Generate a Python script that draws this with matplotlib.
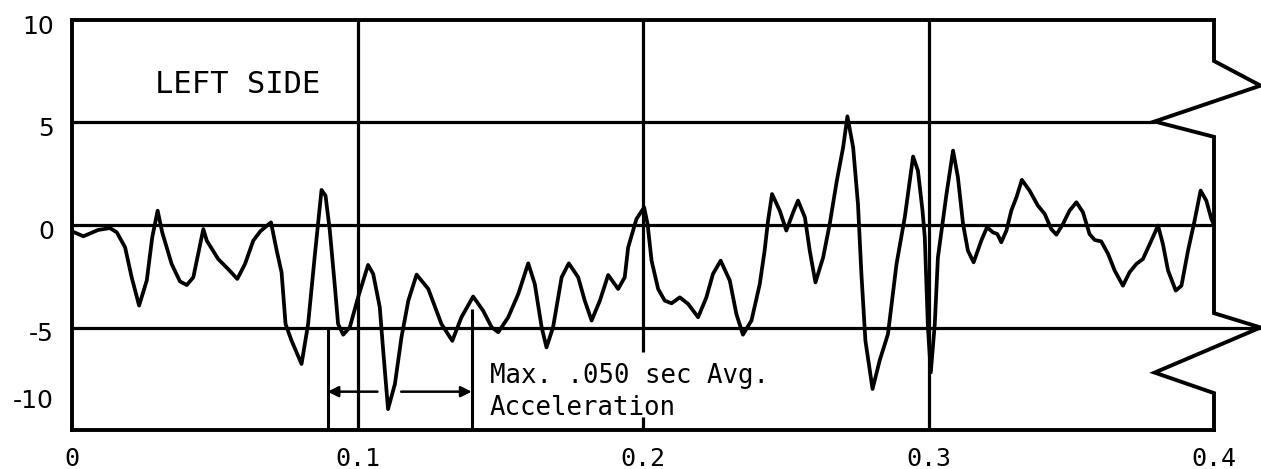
import matplotlib
matplotlib.use("Agg")
import matplotlib.pyplot as plt
from matplotlib.transforms import ScaledTranslation

# Curva trazada a mano sobre la imagen (tiempo en s, aceleración)
t = [0.0, 0.0040, 0.0092, 0.0133, 0.0157, 0.0186, 0.0209, 0.0235, 0.0262, 0.0281,
     0.0300, 0.0316, 0.0349, 0.0378, 0.0402, 0.0425, 0.0442, 0.0460, 0.0472, 0.0512,
     0.0547, 0.0579, 0.0606, 0.0635, 0.0660, 0.0697, 0.0717, 0.0734, 0.0748, 0.0769,
     0.0804, 0.0827, 0.0851, 0.0874, 0.0888, 0.0903, 0.0921, 0.0932, 0.0950, 0.0973,
     0.1002, 0.1037, 0.1055, 0.1078, 0.1090, 0.1107, 0.1131, 0.1154, 0.1178, 0.1207,
     0.1248, 0.1294, 0.1332, 0.1364, 0.1405, 0.1440, 0.1470, 0.1493, 0.1528, 0.1563,
     0.1598, 0.1621, 0.1645, 0.1662, 0.1685, 0.1715, 0.1740, 0.1773, 0.1796, 0.1820,
     0.1849, 0.1878, 0.1913, 0.1936, 0.1948, 0.1977, 0.2004, 0.2016, 0.2030, 0.2053,
     0.2076, 0.2100, 0.2129, 0.2158, 0.2193, 0.2222, 0.2245, 0.2272, 0.2304, 0.2327,
     0.2350, 0.2380, 0.2409, 0.2426, 0.2438, 0.2452, 0.2479, 0.2502, 0.2526, 0.2543,
     0.2567, 0.2584, 0.2604, 0.2631, 0.2654, 0.2679, 0.2701, 0.2716, 0.2736, 0.2753,
     0.2765, 0.2779, 0.2804, 0.2829, 0.2858, 0.2888, 0.2917, 0.2946, 0.2963, 0.2979,
     0.2987, 0.2998, 0.3008, 0.3022, 0.3033, 0.3063, 0.3086, 0.3103, 0.3121, 0.3138,
     0.3158, 0.3185, 0.3205, 0.3226, 0.3241, 0.3255, 0.3273, 0.3290, 0.3308, 0.3327,
     0.3354, 0.3383, 0.3407, 0.3430, 0.3448, 0.3471, 0.3494, 0.3518, 0.3541, 0.3564,
     0.3582, 0.3605, 0.3629, 0.3652, 0.3681, 0.3704, 0.3728, 0.3751, 0.3775, 0.3804,
     0.3821, 0.3839, 0.3866, 0.3886, 0.3909, 0.3932, 0.3953, 0.3973, 0.3991, 0.4000]
acel = [-0.31, -0.55, -0.24, -0.15, -0.36, -1.09, -2.55, -3.93, -2.70, -0.60,
        0.70, -0.36, -1.90, -2.75, -2.93, -2.55, -1.41, -0.20, -0.76, -1.66,
        -2.15, -2.63, -1.90, -0.76, -0.30, 0.13, -1.25, -2.31, -4.83, -5.64,
        -6.78, -4.83, -1.41, 1.71, 1.43, -0.27, -3.04, -4.83, -5.35, -4.99,
        -3.53, -1.95, -2.39, -4.01, -6.13, -8.98, -7.76, -5.48, -3.69, -2.42,
        -3.12, -4.83, -5.65, -4.50, -3.49, -4.18, -4.99, -5.23, -4.50, -3.37,
        -1.87, -2.88, -4.99, -5.97, -4.99, -2.55, -1.87, -2.55, -3.69, -4.66,
        -3.69, -2.44, -3.12, -2.55, -1.09, 0.29, 0.86, 0.05, -1.74, -3.12,
        -3.69, -3.82, -3.53, -3.85, -4.50, -3.53, -2.39, -1.74, -2.71, -4.34,
        -5.35, -4.66, -2.88, -1.25, 0.21, 1.51, 0.70, -0.27, 0.62, 1.19,
        0.38, -1.25, -2.80, -1.58, 0.05, 2.17, 3.79, 5.30, 3.79, 1.02,
        -2.39, -5.64, -8.00, -6.61, -5.32, -1.90, 0.38, 3.34, 2.65, 0.70,
        -0.60, -4.99, -7.19, -4.83, -1.58, 1.51, 3.63, 2.33, 0.05, -1.25,
        -1.82, -0.76, -0.11, -0.36, -0.44, -0.84, -0.27, 0.70, 1.35, 2.20,
        1.68, 0.95, 0.54, -0.20, -0.47, 0.05, 0.70, 1.11, 0.62, -0.44,
        -0.73, -0.80, -1.41, -2.22, -2.96, -2.31, -1.90, -1.66, -0.93, -0.03,
        -0.93, -2.22, -3.20, -2.96, -1.25, 0.21, 1.68, 1.19, 0.29, 0.0]

xticks = [0, 0.1, 0.2, 0.3, 0.4]
xticklabels = ['0', '0.1', '0.2', '0.3', '0.4']
yticks = [10, 5, 0, -5, -10]
yticklabels = ['10', '5', '0', '-5', '-10']

# Borde derecho en zigzag (símbolo de corte)
corte_x = [0.4, 0.4, 0.4163, 0.3792, 0.4, 0.4, 0.4163, 0.3792, 0.4, 0.4]
corte_y = [10, 8.0, 6.8, 5.05, 4.3, -4.3, -5.0, -7.2, -8.2, -10]

# Marcas de la ventana de 0.050 s
ventana_ini, ventana_fin = 0.0895, 0.140

fig = plt.figure(figsize=(12.61, 4.69), dpi=100)
ax = fig.add_axes([72 / 1261, 39 / 469, 1142 / 1261, 410 / 469])
ax.set_xlim(0, 0.4)
ax.set_ylim(-10, 10)

lw_borde = 2.8
for lado in ['left', 'top', 'bottom']:
    ax.spines[lado].set_linewidth(lw_borde)
ax.spines['right'].set_visible(False)
ax.plot(corte_x, corte_y, color='black', lw=lw_borde, clip_on=False,
        solid_joinstyle='miter')

# Rejilla
lw_rej = 2.3
ax.hlines(5, 0, 0.3792, color='black', lw=lw_rej)
ax.hlines(0, 0, 0.4, color='black', lw=lw_rej)
ax.hlines(-5, 0, 0.4163, color='black', lw=lw_rej, clip_on=False)
ax.vlines(0.1, -10, 10, color='black', lw=lw_rej)
ax.vlines(0.2, -6.2, 10, color='black', lw=lw_rej)
ax.vlines(0.2, -10, -9.37, color='black', lw=lw_rej)
ax.vlines(0.3, -10, 10, color='black', lw=lw_rej)

# Curva
ax.plot(t, acel, color='black', lw=2.7, solid_joinstyle='round')

# Ventana y flechas
ax.vlines(ventana_ini, -10, -5, color='black', lw=2.2)
ax.vlines(ventana_fin, -10, -4.1, color='black', lw=2.2)
ax.annotate('', xy=(ventana_ini, -8.13), xytext=(0.107, -8.13),
            arrowprops=dict(arrowstyle='-|>', color='black', lw=1.8,
                            mutation_scale=16, shrinkA=0, shrinkB=0))
ax.annotate('', xy=(ventana_fin, -8.13), xytext=(0.1153, -8.13),
            arrowprops=dict(arrowstyle='-|>', color='black', lw=1.8,
                            mutation_scale=16, shrinkA=0, shrinkB=0))

# va='baseline' en texto de dos líneas alinea la última línea
ax.text(0.1464, -9.27, 'Max. .050 sec Avg.\nAcceleration', family='DejaVu Sans Mono',
        fontsize=18.5, ha='left', va='baseline', linespacing=1.3)
ax.text(0.029, 6.42, 'LEFT SIDE', family='DejaVu Sans Mono', fontsize=22,
        ha='left', va='baseline')

# Ejes
ax.set_xticks(xticks)
ax.set_xticklabels(xticklabels, family='DejaVu Sans Mono', fontsize=18)
ax.set_yticks(yticks)
ax.set_yticklabels(yticklabels, family='DejaVu Sans', fontsize=18)
ax.tick_params(axis='x', length=0, pad=12)
ax.tick_params(axis='y', length=0, pad=13)
for lab, val in zip(ax.get_yticklabels(), yticks):
    dy = 32 / 100 if val == -10 else -4 / 100
    lab.set_transform(lab.get_transform() + ScaledTranslation(0, dy, fig.dpi_scale_trans))

fig.savefig('out.png', dpi=100)
